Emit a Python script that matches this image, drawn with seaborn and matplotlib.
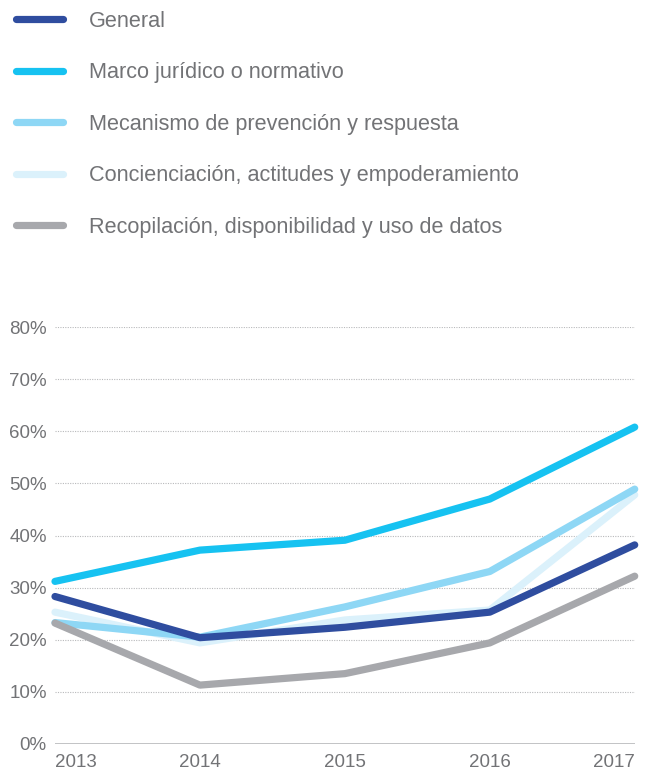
import numpy as np
import pandas as pd
import seaborn as sns
import matplotlib.pyplot as plt

# data (percent)
years = [2013, 2014, 2015, 2016, 2017]
series_names = ["General",
                "Marco jurídico o normativo",
                "Mecanismo de prevención y respuesta",
                "Concienciación, actitudes y empoderamiento",
                "Recopilación, disponibilidad y uso de datos"]
general = [28.3, 20.4, 22.4, 25.3, 38.2]
marco = [31.2, 37.2, 39.1, 47.0, 60.8]
mecanismo = [23.3, 20.5, 26.3, 33.1, 48.9]
concienciacion = [25.3, 19.4, 23.8, 25.7, 47.8]
recopilacion = [23.2, 11.3, 13.5, 19.4, 32.2]
colors = ["#2f4d9f", "#16c2f1", "#8ed7f5", "#dbf1fb", "#a7a8ac"]
yticks = [0, 10, 20, 30, 40, 50, 60, 70, 80]

df = pd.DataFrame({
    "year": years * 5,
    "value": general + marco + mecanismo + concienciacion + recopilacion,
    "serie": [n for n in series_names for _ in years],
})

sns.set_style("white")
plt.rcParams["font.family"] = ["Liberation Sans", "DejaVu Sans"]
text_color = "#727376"

fig = plt.figure(figsize=(6.47, 7.75), dpi=100)
ax = fig.add_axes([0.085, 0.04, 0.896, 0.538])

sns.lineplot(data=df, x="year", y="value", hue="serie", hue_order=series_names,
             palette=colors, linewidth=5.2, ax=ax, legend=False,
             solid_capstyle="round", solid_joinstyle="round", clip_on=False)
# stacking order like the reference: General on top
zmap = {0: 9, 1: 7, 2: 6, 3: 5, 4: 8}
for i, line in enumerate(ax.lines):
    line.set_zorder(zmap[i])

ax.set_xlim(2013, 2017)
ax.set_ylim(0, 80)
ax.set_yticks(yticks)
ax.set_yticklabels([f"{v}%" for v in yticks])
ax.set_xticks(years)
ax.set_xticklabels([str(y) for y in years])
labs = ax.get_xticklabels()
labs[0].set_ha("left")
labs[-1].set_ha("right")
ax.tick_params(axis="both", length=0, labelsize=13.5, colors=text_color)
ax.tick_params(axis="x", pad=7)
ax.tick_params(axis="y", pad=6)
for v in yticks[1:]:
    ax.axhline(v, color="#b8b9bb", lw=0.8, ls=(0, (1, 1.2)), zorder=1)
ax.axhline(0, color="#b8b9bb", lw=1.2, zorder=1)
for s in ax.spines.values():
    s.set_visible(False)
ax.set_xlabel("")
ax.set_ylabel("")

handles = [plt.Line2D([], [], color=c, lw=5.2, solid_capstyle="round") for c in colors]
leg = fig.legend(handles, series_names, loc="upper left", bbox_to_anchor=(0.024, 0.986),
                 frameon=False, fontsize=15.6, handlelength=2.2, handletextpad=1.2,
                 labelspacing=1.41, borderpad=0, borderaxespad=0, labelcolor=text_color)

fig.savefig("out.png", dpi=100)
